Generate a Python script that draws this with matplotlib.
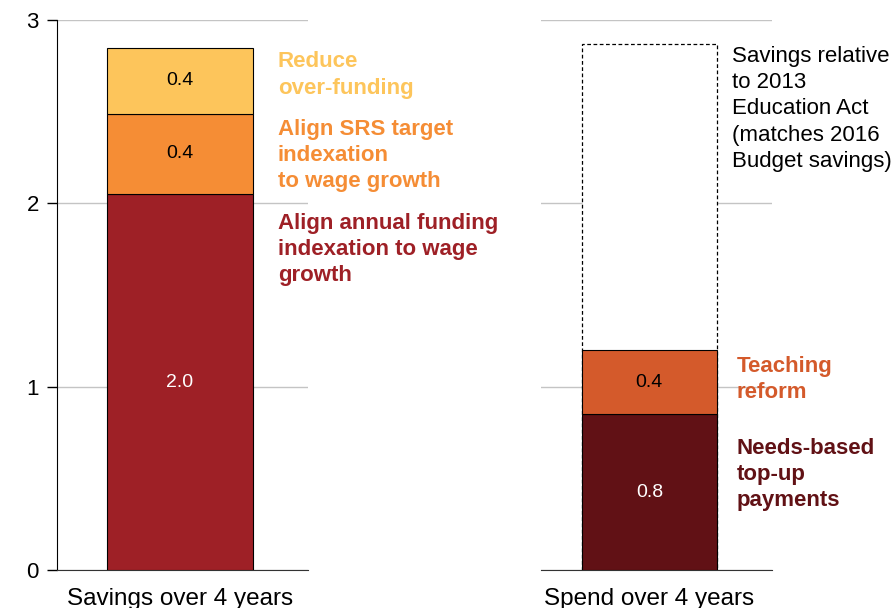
import matplotlib.pyplot as plt

plt.rcParams['font.family'] = ['Liberation Sans', 'DejaVu Sans']

# Datos (miles de millones, 4 años)
ahorro_nombres = ['Align annual funding\nindexation to wage\ngrowth',
                  'Align SRS target\nindexation\nto wage growth',
                  'Reduce\nover-funding']
ahorro_valores = [2.05, 0.44, 0.36]
ahorro_etiquetas = ['2.0', '0.4', '0.4']
ahorro_colores = ['#9E2026', '#F58D35', '#FDC55B']
ahorro_texto_y = [1.75, 2.26, 2.70]

gasto_nombres = ['Needs-based\ntop-up\npayments', 'Teaching\nreform']
gasto_valores = [0.85, 0.35]
gasto_etiquetas = ['0.8', '0.4']
gasto_colores = ['#611115', '#D45A2B']
gasto_texto_y = [0.52, 1.04]

ahorro_2013 = 2.87  # total del recuadro punteado
nota_2013 = 'Savings relative\nto 2013\nEducation Act\n(matches 2016\nBudget savings)'

categorias = ['Savings over 4 years', 'Spend over 4 years']

fig = plt.figure(figsize=(8.96, 6.08), dpi=100)
W, H = 896, 608
ax1 = fig.add_axes([57 / W, (H - 570) / H, 251 / W, 550 / H])
ax2 = fig.add_axes([541 / W, (H - 570) / H, 231 / W, 550 / H])

for ax in (ax1, ax2):
    ax.set_xlim(0, 1)
    ax.set_ylim(0, 3)
    ax.set_yticks([0, 1, 2, 3])
    ax.grid(axis='y', color='#C4C4C4', lw=1)
    ax.set_axisbelow(True)
    for s in ['top', 'right']:
        ax.spines[s].set_visible(False)
    ax.spines['bottom'].set_color('#333333')

ax1.tick_params(axis='y', labelsize=16, length=7, width=1, pad=6)
ax2.spines['left'].set_visible(False)
ax2.tick_params(axis='y', left=False, labelleft=False)

# Barra de ahorro
x1, w1 = 0.49, 0.582
base = 0
for val, lab, col, nombre, ty in zip(ahorro_valores, ahorro_etiquetas, ahorro_colores,
                                     ahorro_nombres, ahorro_texto_y):
    ax1.bar(x1, val, w1, bottom=base, color=col, edgecolor='black', lw=0.8, zorder=3)
    ax1.text(x1, base + val / 2, lab, ha='center', va='center', fontsize=14,
             color='white' if col == '#9E2026' else 'black', zorder=4)
    ax1.text(0.88, ty, nombre, ha='left', va='center', fontsize=16,
             fontweight='bold', color=col, linespacing=1.32, clip_on=False)
    base += val

# Barra de gasto
x2, w2 = 0.469, 0.583
ax2.bar(x2, ahorro_2013, w2, color='white', edgecolor='black', lw=0.9,
        linestyle=(0, (3, 2)), zorder=3)
ax2.text(0.826, 2.515, nota_2013, ha='left', va='center', fontsize=16,
         color='black', linespacing=1.32, clip_on=False)
base = 0
for val, lab, col, nombre, ty in zip(gasto_valores, gasto_etiquetas, gasto_colores,
                                     gasto_nombres, gasto_texto_y):
    ax2.bar(x2, val, w2, bottom=base, color=col, edgecolor='black', lw=0.8, zorder=4)
    ax2.text(x2, base + val / 2, lab, ha='center', va='center', fontsize=14,
             color='white' if col == '#611115' else 'black', zorder=5)
    ax2.text(0.848, ty, nombre, ha='left', va='center', fontsize=16,
             fontweight='bold', color=col, linespacing=1.32, clip_on=False)
    base += val

ax1.set_xticks([x1])
ax1.set_xticklabels([categorias[0]], fontsize=17.5)
ax2.set_xticks([x2])
ax2.set_xticklabels([categorias[1]], fontsize=17.5)
for ax in (ax1, ax2):
    ax.tick_params(axis='x', length=0, pad=13)

fig.savefig('out.png', dpi=100)
